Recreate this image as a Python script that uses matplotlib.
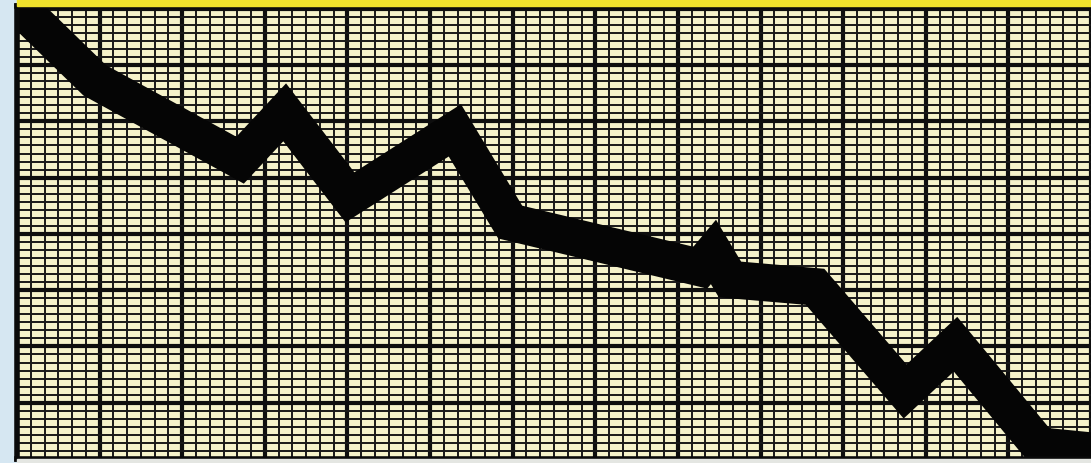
import matplotlib
matplotlib.use("Agg")
import matplotlib.pyplot as plt
from matplotlib.patches import Rectangle
from matplotlib.ticker import MultipleLocator

# Path of the falling line, in graph-paper units (1 unit = one major square)
trend_x = [0.10, 0.94, 2.70, 3.24, 4.03, 5.30, 5.97, 8.27, 8.43, 8.63, 9.66, 10.75, 11.36, 12.38, 13.0]
trend_y = [7.93, 6.73, 5.31, 6.16, 4.65, 5.84, 4.21, 3.40, 3.68, 3.19, 3.06, 1.20, 2.04, 0.23, 0.14]

x_extent = 13.0
y_extent = 8.05
x_subdivisions = 6
y_subdivisions = 7

W, H = 1091, 464
fig = plt.figure(figsize=(W / 100, H / 100), dpi=100, facecolor="#d6e7f2")

# Axes placed like the sheet of graph paper in the photo
left, bottom, top = 17, 4, 7
ax = fig.add_axes([left / W, bottom / H, 1 - left / W, 1 - (bottom + top) / H])
ax.set_facecolor("#f5f2ca")
ax.set_xlim(0, x_extent)
ax.set_ylim(0, y_extent)

# Grid lines of the paper
ax.xaxis.set_major_locator(MultipleLocator(1))
ax.yaxis.set_major_locator(MultipleLocator(1))
ax.xaxis.set_minor_locator(MultipleLocator(1 / x_subdivisions))
ax.yaxis.set_minor_locator(MultipleLocator(1 / y_subdivisions))
ax.grid(which="major", color="#0e0e0e", linewidth=3.0)
ax.grid(which="minor", color="#181818", linewidth=1.4)
ax.set_axisbelow(True)
ax.tick_params(which="both", length=0, labelbottom=False, labelleft=False)

for side in ["left", "bottom", "top"]:
    ax.spines[side].set_linewidth(4)
    ax.spines[side].set_color("#0a0a0a")
ax.spines["right"].set_visible(False)

# The thick black trend line
ax.plot(trend_x, trend_y, color="#050505", linewidth=27,
        solid_capstyle="round", solid_joinstyle="miter", clip_on=True)

# Yellow strip along the top edge and pale strip under the sheet
fig.patches.append(Rectangle((left / W, 1 - top / H), 1, top / H,
                             transform=fig.transFigure, color="#f0e22c", zorder=5))
fig.patches.append(Rectangle((left / W, 0), 1, bottom / H,
                             transform=fig.transFigure, color="#e4e6e2", zorder=5))

fig.savefig("out.png", dpi=100, facecolor=fig.get_facecolor())
